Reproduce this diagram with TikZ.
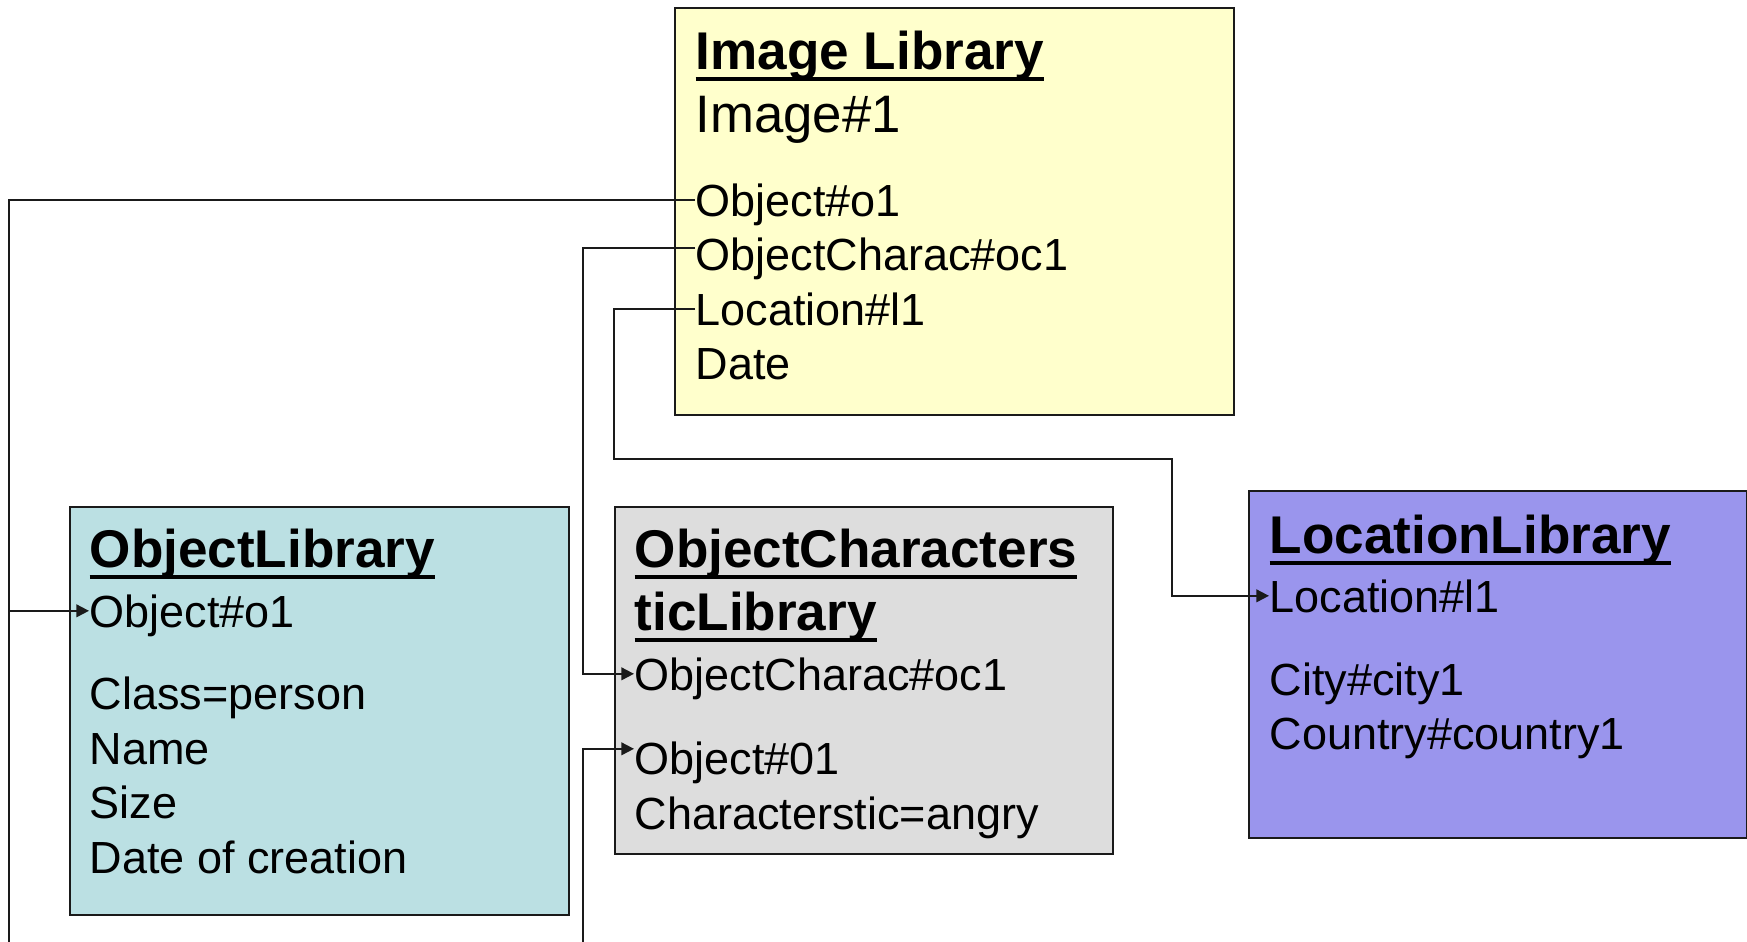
\documentclass[tikz,border=0pt]{standalone}
\usepackage{fontspec}
\setmainfont{Liberation Sans}
\usetikzlibrary{arrows.meta, positioning, calc}
\definecolor{libyellow}{HTML}{FFFFCC}
\definecolor{libteal}{HTML}{BBE0E3}
\definecolor{libgray}{HTML}{DDDDDD}
\definecolor{libpurple}{HTML}{9A95ED}
\definecolor{libline}{HTML}{1A1A1A}

\newcommand{\libul}[1]{\setbox0\hbox{#1}\rlap{\copy0}\rule[-3.4pt]{\wd0}{1.1pt}}

\begin{document}
\begin{tikzpicture}[
  x=0.01cm, y=-0.01cm,
  libbox/.style={rectangle, draw=libline, line width=0.6pt, anchor=north west, inner sep=0pt},
  libtitle/.style={anchor=base west, inner sep=0pt, font=\fontsize{15.1}{18}\selectfont\bfseries},
  field/.style={anchor=base west, inner sep=0pt, text height=9.2pt, text depth=0pt, font=\fontsize{12.8}{15}\selectfont},
  link/.style={draw=libline, line width=0.55pt},
  arr/.style={link, -{Triangle[length=3.6pt,width=3.6pt]}},
]
\useasboundingbox (0,0) rectangle (1747,942);

% Image library
\node[libbox, fill=libyellow, minimum width=5.59cm, minimum height=4.07cm] (imgbox) at (674,7) {};
\node[libtitle] (img-t) at (695,69) {\libul{Image Library}};
\node[field, font=\fontsize{15}{18}\selectfont] (img-id) at (695,132) {Image\#1};
\node[field] (img-obj) at (695,216) {Object\#o1};
\node[field] (img-oc) at (695,270) {ObjectCharac\#oc1};
\node[field] (img-loc) at (695,325) {Location\#l1};
\node[field] (img-date) at (695,379) {Date};

% Object library
\node[libbox, fill=libteal, minimum width=4.99cm, minimum height=4.08cm] (objbox) at (69,506) {};
\node[libtitle] (ol-t) at (89,567) {\libul{ObjectLibrary}};
\node[field] (ol-obj) at (89,627) {Object\#o1};
\node[field] (ol-cls) at (89,709) {Class=person};
\node[field] (ol-name) at (89,764) {Name};
\node[field] (ol-size) at (89,818) {Size};
\node[field] (ol-date) at (89,873) {Date of creation};

% Object characteristic library
\node[libbox, fill=libgray, minimum width=4.98cm, minimum height=3.47cm] (ochbox) at (614,506) {};
\node[libtitle] (och-t1) at (634,567) {\libul{ObjectCharacters}};
\node[libtitle] (och-t2) at (634,630) {\libul{ticLibrary}};
\node[field] (och-oc) at (634,690) {ObjectCharac\#oc1};
\node[field] (och-obj) at (634,774) {Object\#01};
\node[field] (och-chr) at (634,829) {Characterstic=angry};

% Location library
\node[libbox, fill=libpurple, minimum width=4.98cm, minimum height=3.47cm] (locbox) at (1248,490) {};
\node[libtitle] (loc-t) at (1269,553) {\libul{LocationLibrary}};
\node[field] (loc-loc) at (1269,612) {Location\#l1};
\node[field] (loc-city) at (1269,695) {City\#city1};
\node[field] (loc-ctry) at (1269,749) {Country\#country1};

% links
\coordinate (objbus) at (9,942);
\coordinate (ocbus) at (583,942);
\coordinate (locA) at (614,459);
\coordinate (locB) at (1172,459);
\coordinate (ocstart) at ($(img-oc.west)+(0,-6)$);
\coordinate (och-objin) at ($(och-obj.west)+(0,-9)$);

\draw[link] (img-obj.west) -| (objbus);
\draw[arr] (objbus |- ol-obj.west) -- (ol-obj.west);
\draw[arr] (ocstart) -| (ocbus |- och-oc.west) -- (och-oc.west);
\draw[arr] (ocbus) |- (och-objin);
\draw[arr] (img-loc.west) -| (locA) -| (locB |- loc-loc.west) -- (loc-loc.west);

\end{tikzpicture}
\end{document}
